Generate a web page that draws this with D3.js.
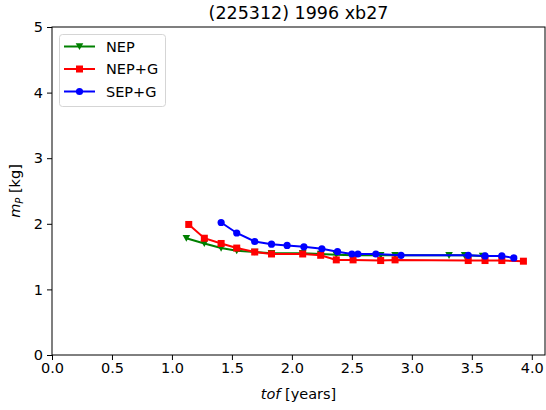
<!DOCTYPE html>
<html>
<head>
<meta charset="utf-8">
<script src="https://cdn.jsdelivr.net/npm/d3@7"></script>
<style>
  body { margin: 0; background: #fff; }
  svg { display: block; font-family: "DejaVu Sans", sans-serif; }
</style>
</head>
<body>
<svg id="chart" width="546" height="410"></svg>
<script>
  var title = '(225312) 1996 xb27';
  var xTicks = [0, 0.5, 1, 1.5, 2, 2.5, 3, 3.5, 4];
  var yTicks = [0, 1, 2, 3, 4, 5];

  var nepTof = [1.12, 1.27, 1.41, 1.54, 1.69, 1.83, 2.09, 2.24, 2.37, 2.51, 2.74, 2.86, 3.31, 3.44, 3.59];
  var nepMass = [1.78, 1.70, 1.63, 1.59, 1.57, 1.55, 1.55, 1.54, 1.53, 1.52, 1.52, 1.52, 1.52, 1.52, 1.51];

  var nepgTof = [1.14, 1.27, 1.41, 1.54, 1.69, 1.83, 2.09, 2.24, 2.37, 2.51, 2.74, 2.86, 3.47, 3.61, 3.75, 3.93];
  var nepgMass = [1.99, 1.78, 1.70, 1.63, 1.57, 1.54, 1.54, 1.52, 1.45, 1.45, 1.44, 1.45, 1.44, 1.44, 1.44, 1.43];

  var sepgTof = [1.41, 1.54, 1.69, 1.83, 1.96, 2.10, 2.25, 2.38, 2.50, 2.55, 2.70, 2.91, 3.47, 3.61, 3.75, 3.85];
  var sepgMass = [2.02, 1.86, 1.73, 1.69, 1.67, 1.65, 1.62, 1.575, 1.54, 1.54, 1.54, 1.52, 1.52, 1.51, 1.51, 1.48];

  var series = [
    { name: 'NEP', color: '#008000', marker: 'tri', tof: nepTof, mass: nepMass },
    { name: 'NEP+G', color: '#ff0000', marker: 'square', tof: nepgTof, mass: nepgMass },
    { name: 'SEP+G', color: '#0000ff', marker: 'circle', tof: sepgTof, mass: sepgMass }
  ];

  var plotLeft = 52, plotRight = 545, plotTop = 27, plotBottom = 355;

  var svg = d3.select('#chart');

  var x = d3.scaleLinear().domain([0, 4.11]).range([plotLeft, plotRight]);
  var y = d3.scaleLinear().domain([0, 5]).range([plotBottom, plotTop]);

  var plot = svg.append('g').attr('class', 'plot');

  var line = d3.line()
    .x(function(d) { return x(d[0]); })
    .y(function(d) { return y(d[1]); });

  function drawMarker(g, type, cx, cy, color) {
    if(type === 'square') {
      g.append('rect')
        .attr('x', cx - 3.5).attr('y', cy - 3.5)
        .attr('width', 7).attr('height', 7)
        .attr('fill', color);
    } else if(type === 'circle') {
      g.append('circle')
        .attr('cx', cx).attr('cy', cy).attr('r', 3.6)
        .attr('fill', color);
    } else {
      g.append('path')
        .attr('d', 'M' + (cx - 3.8) + ',' + (cy - 3.2) + 'L' + (cx + 3.8) + ',' + (cy - 3.2) + 'L' + cx + ',' + (cy + 3.6) + 'Z')
        .attr('fill', color);
    }
  }

  series.forEach(function(s) {
    var pts = s.tof.map(function(t, i) { return [t, s.mass[i]]; });
    var g = plot.append('g').attr('class', 'series');

    g.append('path')
      .datum(pts)
      .attr('d', line)
      .attr('fill', 'none')
      .attr('stroke', s.color)
      .attr('stroke-width', 2);

    pts.forEach(function(p) {
      drawMarker(g, s.marker, x(p[0]), y(p[1]), s.color);
    });
  });

  // axes
  var xAxis = svg.append('g')
    .attr('transform', 'translate(0,' + plotBottom + ')')
    .call(d3.axisBottom(x).tickValues(xTicks).tickFormat(d3.format('.1f')).tickSizeOuter(0).tickSize(5).tickPadding(3));

  var yAxis = svg.append('g')
    .attr('transform', 'translate(' + plotLeft + ',0)')
    .call(d3.axisLeft(y).tickValues(yTicks).tickFormat(d3.format('d')).tickSizeOuter(0).tickSize(5).tickPadding(4));

  [xAxis, yAxis].forEach(function(a) {
    a.select('.domain').remove();
    a.selectAll('text')
      .attr('fill', '#000')
      .style('font-family', '"DejaVu Sans", sans-serif')
      .style('font-size', '14.5px');
    a.selectAll('line').attr('stroke', '#000').attr('stroke-width', 1);
  });

  svg.append('rect')
    .attr('x', plotLeft).attr('y', plotTop)
    .attr('width', plotRight - plotLeft).attr('height', plotBottom - plotTop)
    .attr('fill', 'none')
    .attr('stroke', '#000')
    .attr('stroke-width', 1);

  svg.append('text')
    .attr('x', (plotLeft + plotRight) / 2)
    .attr('y', 19)
    .attr('text-anchor', 'middle')
    .style('font-size', '17.5px')
    .text(title);

  var xl = svg.append('text')
    .attr('x', (plotLeft + plotRight) / 2)
    .attr('y', 399)
    .attr('text-anchor', 'middle')
    .style('font-size', '14.5px');
  xl.append('tspan').style('font-style', 'italic').text('tof');
  xl.append('tspan').text(' [years]');

  var yl = svg.append('text')
    .attr('transform', 'translate(20,' + ((plotTop + plotBottom) / 2) + ') rotate(-90)')
    .attr('text-anchor', 'middle')
    .style('font-size', '14.5px');
  yl.append('tspan').style('font-style', 'italic').text('m');
  yl.append('tspan').style('font-style', 'italic').style('font-size', '10px').attr('dy', 3).text('P');
  yl.append('tspan').attr('dy', -3).text(' [kg]');

  // legend
  var legend = svg.append('g').attr('class', 'legend');
  legend.append('rect')
    .attr('x', 59.5).attr('y', 34.5)
    .attr('width', 106).attr('height', 72)
    .attr('rx', 3)
    .attr('fill', '#fff')
    .attr('fill-opacity', 0.8)
    .attr('stroke', '#d5d5d5');

  series.forEach(function(s, i) {
    var ly = 46.5 + i * 22.5;
    legend.append('line')
      .attr('x1', 64).attr('x2', 95)
      .attr('y1', ly).attr('y2', ly)
      .attr('stroke', s.color)
      .attr('stroke-width', 2);
    drawMarker(legend, s.marker, 79.5, ly, s.color);
    legend.append('text')
      .attr('x', 106)
      .attr('y', ly + 5)
      .style('font-size', '14.5px')
      .text(s.name);
  });
</script>
</body>
</html>
